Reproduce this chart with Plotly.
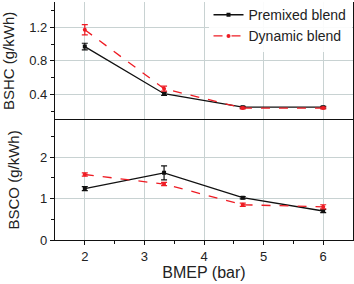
import plotly.graph_objects as go

bmep = [2, 3.33, 4.65, 6]
bshc_premixed = [0.97, 0.41, 0.25, 0.25]
bshc_premixed_err = [0.04, 0.02, 0.01, 0.01]
bshc_dynamic = [1.17, 0.47, 0.24, 0.24]
bshc_dynamic_err = [0.06, 0.03, 0.01, 0.01]
bsco_premixed = [1.24, 1.62, 1.02, 0.70]
bsco_premixed_err = [0.05, 0.17, 0.03, 0.04]
bsco_dynamic = [1.58, 1.35, 0.85, 0.80]
bsco_dynamic_err = [0.04, 0.04, 0.04, 0.05]

BLACK = "#111111"
RED = "#ee1c24"

fig = go.Figure()

def add(y, err, name, color, dash, symbol, yaxis, show):
    fig.add_trace(go.Scatter(
        x=bmep, y=y, name=name, mode="lines+markers",
        line=dict(color=color, width=1.3, dash=dash),
        marker=dict(color=color, size=4, symbol=symbol),
        error_y=dict(type="data", array=err, visible=True, color=color, thickness=1.2, width=3),
        xaxis="x", yaxis=yaxis, showlegend=show, legendgroup=name,
    ))

add(bshc_premixed, bshc_premixed_err, "Premixed blend", BLACK, "solid", "square", "y", True)
add(bshc_dynamic, bshc_dynamic_err, "Dynamic blend", RED, "dash", "circle", "y", True)
add(bsco_premixed, bsco_premixed_err, "Premixed blend", BLACK, "solid", "square", "y2", False)
add(bsco_dynamic, bsco_dynamic_err, "Dynamic blend", RED, "dash", "circle", "y2", False)

font = dict(family="Liberation Sans, Arial, sans-serif", size=12, color="#222222")
grid = "#c8d2d2"
split = 0.505

fig.update_layout(
    width=354, height=284,
    margin=dict(l=55, r=1, t=2, b=44, autoexpand=False),
    paper_bgcolor="white", plot_bgcolor="white",
    font=font,
    legend=dict(x=0.995, y=1.012, xanchor="right", yanchor="top",
                bgcolor="rgba(255,255,255,0.9)", font=dict(size=14),
                tracegroupgap=0),
    xaxis=dict(range=[1.5, 6.5], tickvals=[2, 3, 4, 5, 6], anchor="y2",
               showgrid=True, gridcolor=grid, gridwidth=1,
               ticks="outside", ticklen=4, tickcolor=BLACK,
               minor=dict(tickvals=[2.5, 3.5, 4.5, 5.5], ticks="outside", ticklen=3, tickcolor=BLACK),
               showline=True, linecolor=BLACK, linewidth=1.2, mirror=True,
               zeroline=False, automargin=False,
               title=dict(text="BMEP (bar)", font=dict(size=16), standoff=3),
               tickfont=dict(size=13)),
    yaxis=dict(domain=[split, 1], range=[0.1, 1.5], tickvals=[0.4, 0.8, 1.2],
               showgrid=True, gridcolor=grid, gridwidth=1,
               ticks="outside", ticklen=4, tickcolor=BLACK,
               minor=dict(tickvals=[0.2, 0.6, 1.0, 1.4], ticks="outside", ticklen=3, tickcolor=BLACK),
               showline=True, linecolor=BLACK, linewidth=1.2, mirror=True,
               zeroline=False, automargin=False,
               title=dict(text="BSHC (g/kWh)", font=dict(size=15), standoff=10),
               tickfont=dict(size=13)),
    yaxis2=dict(domain=[0, split], range=[0, 2.9], tickvals=[0, 1, 2],
                showgrid=True, gridcolor=grid, gridwidth=1,
                ticks="outside", ticklen=4, tickcolor=BLACK,
                minor=dict(tickvals=[0.5, 1.5, 2.5], ticks="outside", ticklen=3, tickcolor=BLACK),
                showline=True, linecolor=BLACK, linewidth=1.2, mirror=True,
                zeroline=False, automargin=False,
                title=dict(text="BSCO (g/kWh)", font=dict(size=15), standoff=16),
                tickfont=dict(size=13)),
)

fig.write_html(
    "out.html",
    config={"displayModeBar": False},
    post_script="document.body.style.margin='0';document.body.style.overflow='hidden';",
)
